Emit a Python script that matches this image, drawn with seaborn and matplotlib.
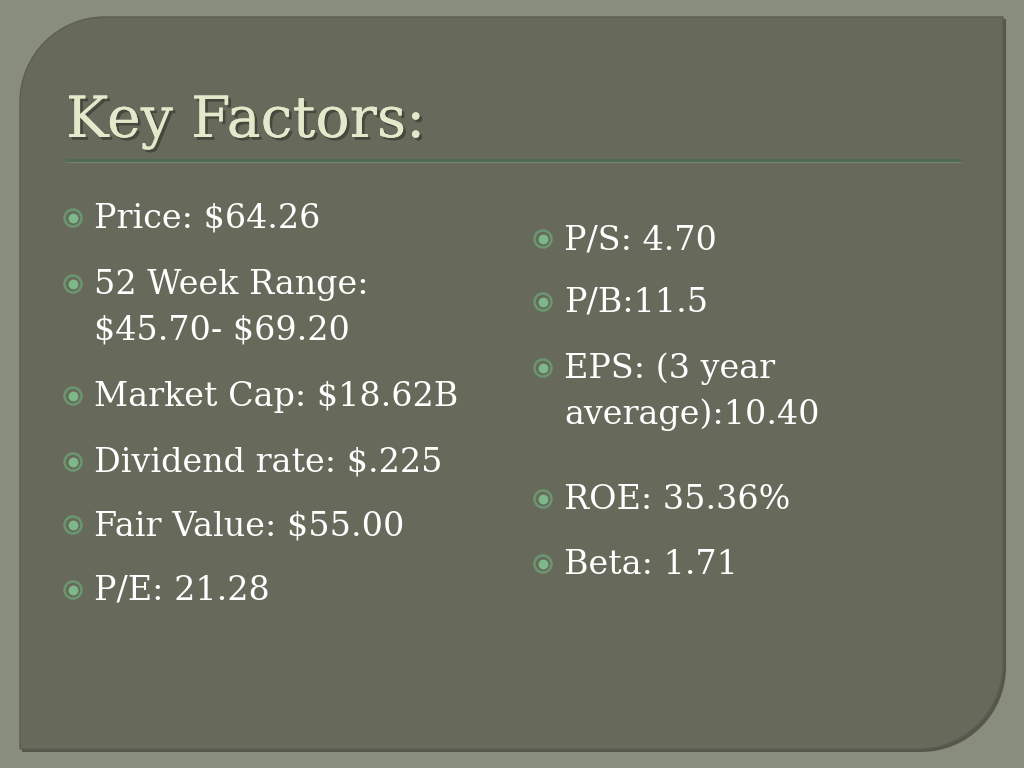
import matplotlib
matplotlib.use("Agg")
import matplotlib.pyplot as plt
import matplotlib.patheffects as pe
from matplotlib.path import Path
from matplotlib.patches import PathPatch
import seaborn as sns

title = "Key Factors:"
left_lines = ["Price: $64.26", "52 Week Range:", "$45.70- $69.20", "Market Cap: $18.62B",
              "Dividend rate: $.225", "Fair Value: $55.00", "P/E: 21.28"]
left_base = [228, 294, 340, 406, 472, 535, 600]
left_bullet = [True, True, False, True, True, True, True]
right_lines = ["P/S: 4.70", "P/B:11.5", "EPS: (3 year", "average):10.40", "ROE: 35.36%", "Beta: 1.71"]
right_base = [249, 312, 378, 424, 509, 574]
right_bullet = [True, True, True, False, True, True]

sns.set_theme(style="white")
plt.rcParams['font.family'] = ['DejaVu Serif']
plt.rcParams['text.parse_math'] = False

fig = plt.figure(figsize=(10.24, 7.68), dpi=100)
fig.patch.set_facecolor("#898d7b")
ax = fig.add_axes([0, 0, 1, 1])
ax.set_xlim(0, 1024)
ax.set_ylim(768, 0)
ax.axis("off")


def panel_path(x0, y0, x1, y1, r):
    k = 0.5523 * r
    verts = [(x0 + r, y0), (x1, y0), (x1, y1 - r),
             (x1, y1 - r + k), (x1 - r + k, y1), (x1 - r, y1),
             (x0, y1), (x0, y0 + r),
             (x0, y0 + r - k), (x0 + r - k, y0), (x0 + r, y0), (x0 + r, y0)]
    codes = [Path.MOVETO, Path.LINETO, Path.LINETO,
             Path.CURVE4, Path.CURVE4, Path.CURVE4,
             Path.LINETO, Path.LINETO,
             Path.CURVE4, Path.CURVE4, Path.CURVE4, Path.CLOSEPOLY]
    return Path(verts, codes)


# shadow + panel
ax.add_patch(PathPatch(panel_path(22, 19, 1006, 752, 85), facecolor="#55574b", edgecolor="none"))
ax.add_patch(PathPatch(panel_path(20, 17, 1003, 749, 85), facecolor="#676a5b", edgecolor="#5c5e51", lw=1))

ax.text(66, 137, title, fontsize=41, color="#e6e8cc", va="baseline", ha="left",
        path_effects=[pe.withSimplePatchShadow(offset=(2, -2), shadow_rgbFace="#3e4036", alpha=0.8),
                      pe.Normal()])
ax.plot([66, 962], [160, 160], color="#4d6a52", lw=2, solid_capstyle="butt")
ax.plot([66, 962], [162, 162], color="#76806c", lw=0.8, solid_capstyle="butt")


def bullets(xb, xt, lines, bases, flags):
    for txt, yb, flag in zip(lines, bases, flags):
        ax.text(xt, yb, txt, fontsize=24, color="white", va="baseline", ha="left")
        if flag:
            ax.scatter([xb], [yb - 10], s=150, facecolor="none", edgecolor="#6a9670", lw=1.8, zorder=3)
            ax.scatter([xb], [yb - 10], s=50, color="#7cb888", lw=0, zorder=3)


bullets(73, 94, left_lines, left_base, left_bullet)
bullets(543, 564, right_lines, right_base, right_bullet)

fig.savefig("out.png", dpi=100, facecolor=fig.get_facecolor())
